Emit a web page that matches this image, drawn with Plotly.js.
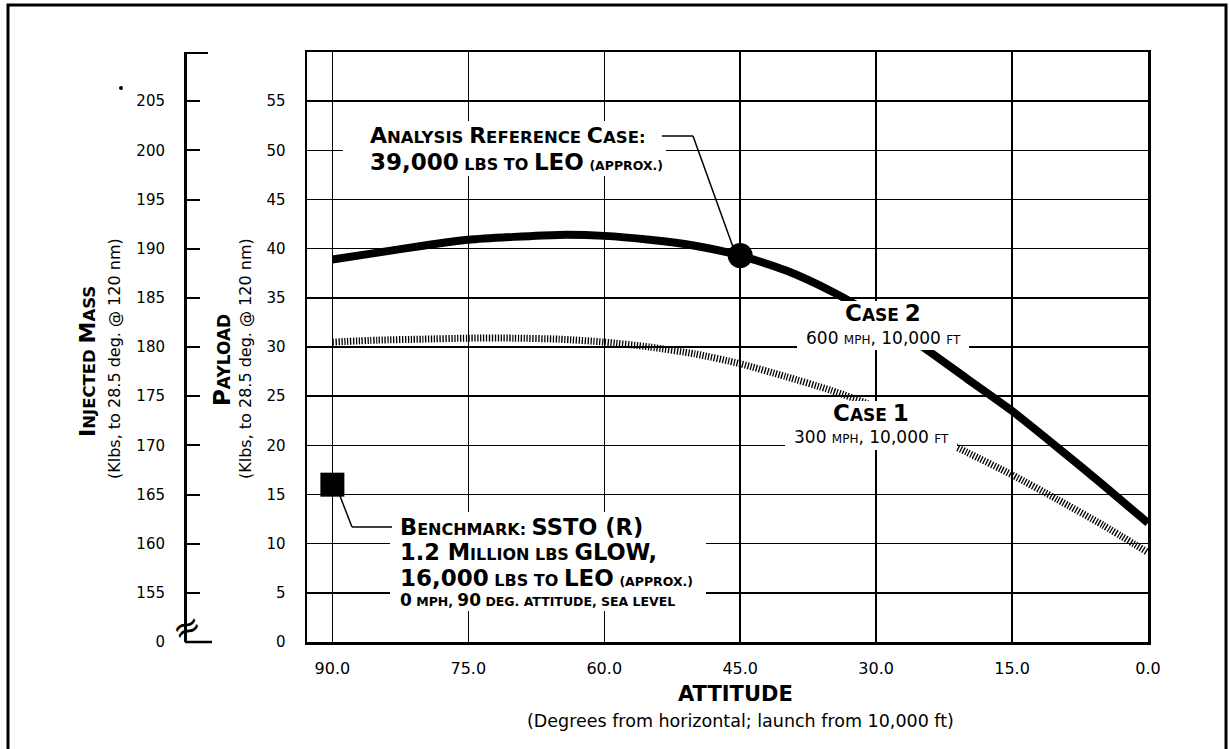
<!DOCTYPE html>
<html>
<head>
<meta charset="utf-8">
<script src="https://cdn.plot.ly/plotly-3.0.1.min.js"></script>
<style>html,body{margin:0;padding:0;background:#fff;}#chart{width:1230px;height:749px;}</style>
</head>
<body>
<div id="chart"></div>
<script>
// ---- data ----
const attitude = [90, 85, 80, 75, 70, 65, 60, 55, 50, 45, 40, 35, 30, 25, 20, 15, 10, 5, 0];
const case2Payload = [38.9, 39.6, 40.3, 40.9, 41.2, 41.4, 41.3, 40.9, 40.3, 39.3, 37.8, 35.7, 33.1, 30.1, 26.8, 23.5, 19.8, 16.0, 12.1];
const case1Payload = [30.5, 30.7, 30.8, 30.9, 30.9, 30.8, 30.5, 30.0, 29.3, 28.3, 27.0, 25.6, 23.9, 21.6, 19.3, 17.0, 14.5, 11.9, 9.1];
const referenceCase = {attitude: [45], payload: [39.3]};
const benchmarkCase = {attitude: [90], payload: [16.0]};
const xTickVals = [90, 75, 60, 45, 30, 15, 0];
const payloadTicks = [0, 5, 10, 15, 20, 25, 30, 35, 40, 45, 50, 55];
const massTickVals = [150, 155, 160, 165, 170, 175, 180, 185, 190, 195, 200, 205];
const massTickText = ['0', '155', '160', '165', '170', '175', '180', '185', '190', '195', '200', '205'];

// ---- geometry helpers (pixel -> paper) ----
const ML = 60, MR = 82, MT = 52, MB = 107;
const W = 1230, H = 749;
const PW = W - ML - MR, PH = H - MT - MB;
const px = p => (p - ML) / PW;
const py = p => (H - MB - p) / PH;

const FONT = 'DejaVu Sans, Liberation Sans, Arial, sans-serif';
const S = (t, s) => `<span style="font-size:${s}px">${t}</span>`;
const F = (size, bold) => ({family: FONT, size: size, color: '#000', weight: bold ? 'bold' : 'normal'});

const traces = [
  {x: attitude, y: case1Payload, type: 'scatter', mode: 'lines', name: 'Case 1',
   line: {color: '#000', width: 7, dash: '1.3px,1.6px', shape: 'spline', smoothing: 0.6}, hoverinfo: 'skip'},
  {x: attitude, y: case2Payload, type: 'scatter', mode: 'lines', name: 'Case 2',
   line: {color: '#000', width: 8, shape: 'spline', smoothing: 0.6}, hoverinfo: 'skip'},
  {x: referenceCase.attitude, y: referenceCase.payload, type: 'scatter', mode: 'markers', name: 'Reference',
   marker: {symbol: 'circle', size: 25, color: '#000'}, hoverinfo: 'skip'},
  {x: benchmarkCase.attitude, y: benchmarkCase.payload, type: 'scatter', mode: 'markers', name: 'Benchmark',
   marker: {symbol: 'square', size: 24, color: '#000'}, hoverinfo: 'skip'},
  {x: [null], y: [null], yaxis: 'y2', type: 'scatter', mode: 'markers', showlegend: false, hoverinfo: 'skip'}
];

const whiteRect = (x0, y0, x1, y1) => ({type: 'rect', xref: 'paper', yref: 'paper', layer: 'above',
  x0: px(x0), x1: px(x1), y0: py(y1), y1: py(y0), fillcolor: '#fff', line: {width: 0}});
const seg = (x0, y0, x1, y1, w) => ({type: 'line', xref: 'paper', yref: 'paper', layer: 'above',
  x0: px(x0), y0: py(y0), x1: px(x1), y1: py(y1), line: {color: '#000', width: w || 1.5}});

const shapes = [
  // outer frame
  {type: 'rect', xref: 'paper', yref: 'paper', x0: px(8), x1: px(1226), y0: py(765), y1: py(5),
   line: {color: '#000', width: 3}, fillcolor: 'rgba(0,0,0,0)'},
  // label backgrounds
  whiteRect(343, 121, 666, 176),
  whiteRect(797, 301, 969, 350),
  whiteRect(785, 401, 957, 450),
  whiteRect(390, 512, 706, 611),
  // leaders
  seg(662, 136, 693, 136), seg(693, 136, 733, 247),
  seg(340, 496, 352, 527), seg(352, 527, 392, 527),
  // injected-mass axis end caps
  seg(185, 53, 208, 53, 2), seg(185, 642, 212, 642, 2.5),
  // speck
  {type: 'circle', xref: 'paper', yref: 'paper', x0: px(119), x1: px(123), y0: py(90), y1: py(86),
   fillcolor: '#000', line: {width: 0}}
];

const ann = (text, x, y, font, opts) => Object.assign({
  text: text, xref: 'paper', yref: 'paper', x: px(x), y: py(y), showarrow: false,
  xanchor: 'left', yanchor: 'middle', font: font
}, opts || {});

const annotations = [
  // axis titles
  ann(S('I', 22) + 'NJECTED ' + S('M', 22) + 'ASS', 88, 362, F(16.5, true), {textangle: -90, xanchor: 'center'}),
  ann('(Klbs, to 28.5 deg. @ 120 nm)', 114, 359, F(16), {textangle: -90, xanchor: 'center'}),
  ann(S('P', 23) + 'AYLOAD', 222, 360, F(17, true), {textangle: -90, xanchor: 'center'}),
  ann('(Klbs, to 28.5 deg. @ 120 nm)', 245, 359, F(16), {textangle: -90, xanchor: 'center'}),
  ann('ATTITUDE', 735, 694, F(21, true), {xanchor: 'center'}),
  ann('(Degrees from horizontal; launch from 10,000 ft)', 740, 721, F(17.5), {xanchor: 'center'}),
  // axis break
  ann('≈', 186, 627, F(34), {xanchor: 'center', textangle: -25}),
  // analysis reference case
  ann(S('A', 22) + 'NALYSIS ' + S('R', 22) + 'EFERENCE ' + S('C', 22) + 'ASE:', 368, 135, F(16.5, true)),
  ann(S('39,000', 23) + ' LBS TO ' + S('LEO', 23) + ' ' + S('(APPROX.)', 12.5), 368, 162, F(16, true)),
  // case 2
  ann(S('C', 23) + 'ASE ' + S('2', 23), 883, 313, F(17, true), {xanchor: 'center'}),
  ann('600 ' + S('MPH', 12) + ', 10,000 ' + S('FT', 12), 883, 338, F(17), {xanchor: 'center'}),
  // case 1
  ann(S('C', 23) + 'ASE ' + S('1', 23), 871, 413, F(17, true), {xanchor: 'center'}),
  ann('300 ' + S('MPH', 12) + ', 10,000 ' + S('FT', 12), 871, 437, F(17), {xanchor: 'center'}),
  // benchmark
  ann(S('B', 22.5) + 'ENCHMARK: ' + S('SSTO (R)', 22.5), 398, 527, F(16, true)),
  ann(S('1.2 M', 22.5) + 'ILLION LBS ' + S('GLOW,', 22.5), 398, 552, F(16, true)),
  ann(S('16,000', 23) + ' LBS TO ' + S('LEO', 23) + ' ' + S('(APPROX.)', 12.5), 398, 578, F(16, true)),
  ann(S('0', 17) + ' MPH, ' + S('90', 17) + ' DEG. ATTITUDE, SEA LEVEL', 398, 600, F(12.5, true))
];

const layout = {
  width: W, height: H,
  margin: {l: ML, r: MR, t: MT, b: MB, pad: 0},
  paper_bgcolor: '#fff', plot_bgcolor: '#fff',
  showlegend: false,
  font: {family: FONT, size: 15, color: '#000'},
  xaxis: {
    domain: [px(307), 1], range: [92.8, 0],
    tickvals: xTickVals, tickformat: '.1f', ticks: '', ticklabelstandoff: 10,
    tickfont: F(16),
    showgrid: true, gridcolor: '#000', gridwidth: 1.5,
    showline: true, linecolor: '#000', linewidth: 2.5, mirror: true, zeroline: false
  },
  yaxis: {
    range: [0, 60], tickvals: payloadTicks, ticks: 'inside', ticklen: 10, tickwidth: 1.5, tickcolor: '#000',
    ticklabelstandoff: 16, tickfont: F(15),
    showgrid: true, gridcolor: '#000', gridwidth: 1.5,
    showline: true, linecolor: '#000', linewidth: 2.5, mirror: true, zeroline: false
  },
  yaxis2: {
    overlaying: 'y', anchor: 'free', position: px(185), side: 'left',
    range: [150, 210], tickvals: massTickVals, ticktext: massTickText,
    ticks: 'inside', ticklen: 13, tickwidth: 2, tickcolor: '#000',
    ticklabelstandoff: 16, tickfont: F(15),
    showgrid: false, showline: true, linecolor: '#000', linewidth: 2.5, zeroline: false
  },
  shapes: shapes,
  annotations: annotations
};

Plotly.newPlot('chart', traces, layout, {staticPlot: true, displayModeBar: false});
</script>
</body>
</html>
